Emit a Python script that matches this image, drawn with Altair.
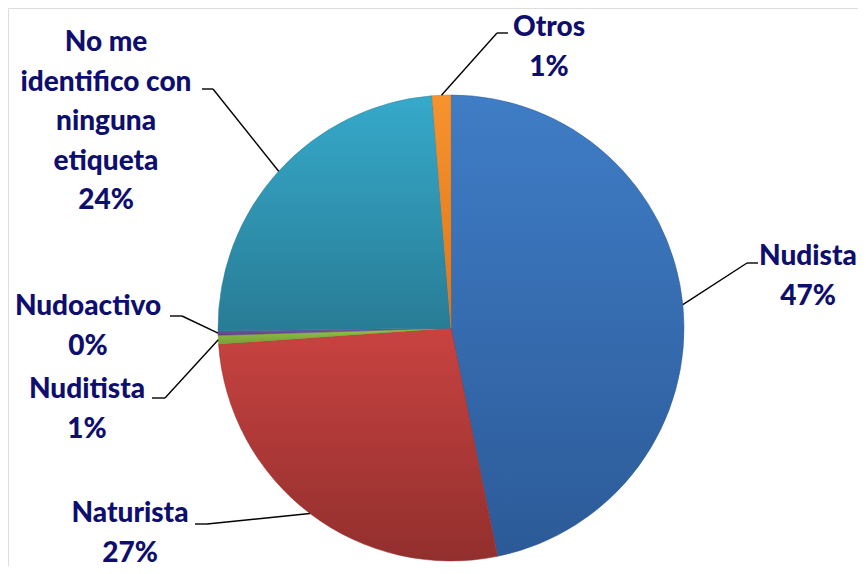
import altair as alt
import pandas as pd

# ---- data ----
categories = ["Nudista", "Naturista", "Nuditista", "Nudoactivo",
              "No me identifico con ninguna etiqueta", "Otros"]
label_text = ["Nudista", "Naturista", "Nuditista", "Nudoactivo",
              "No me\nidentifico con\nninguna\netiqueta", "Otros"]
values = [46.8, 27.1, 0.6, 0.3, 23.9, 1.3]

# ---- layout / style (plot-pixel coordinates) ----
W, H = 850, 558
CX, CY, R = 443, 320, 233
label_x = [800, 122, 79, 80, 98, 541]
label_y = [257, 514, 390, 307, 43, 28]
elbow_x = [739, 199, 157, 174, 205, 489]
elbow_y = [255, 516, 390, 308, 81, 25]
end_x = [750, 187, 144, 162, 194, 500]
end_y = [255, 516, 390, 308, 81, 25]
grad_top = ["#3F7DC6", "#C84341", "#95C24A", "#7A5CA6", "#36A9CA", "#F7932F"]
grad_bot = ["#2C5A98", "#922F2D", "#76A036", "#5A4484", "#287C95", "#DD7718"]
TEXT_COLOR = "#0E0E6E"

df = pd.DataFrame({
    "category": categories,
    "label": label_text,
    "value": values,
    "order": list(range(len(categories))),
    "lx": label_x, "ly": label_y,
    "ex": elbow_x, "ey": elbow_y,
    "hx": end_x, "hy": end_y,
})

base = (
    alt.Chart(df)
    .transform_window(cum="sum(value)", sort=[alt.SortField("order")], frame=[None, 0])
    .transform_joinaggregate(total="sum(value)")
    .transform_calculate(
        f0="(datum.cum - datum.value) / datum.total",
        f1="datum.cum / datum.total",
        mid="(datum.cum - datum.value / 2) / datum.total * 2 * PI",
        pct="format(datum.value / datum.total, '.0%')",
    )
    .transform_calculate(
        ax=f"{CX} + {R} * sin(datum.mid)",
        ay=f"{CY} - {R} * cos(datum.mid)",
        txt="datum.label + '\\n' + datum.pct",
    )
)

theta_scale = alt.Scale(domain=[0, 1], range=[0, 6.283185307179586])
xs = alt.Scale(domain=[0, W], range=[0, W], nice=False, zero=False)
ys = alt.Scale(domain=[0, H], range=[0, H], nice=False, zero=False)

layers = []
for i in range(len(categories)):
    grad = {
        "gradient": "linear", "x1": 0, "x2": 0, "y1": 0, "y2": 1,
        "stops": [{"offset": 0, "color": grad_top[i]},
                  {"offset": 1, "color": grad_bot[i]}],
    }
    layers.append(
        base.transform_filter(f"datum.order == {i}")
        .mark_arc(color=grad, radius=R, x=CX, y=CY, stroke=grad_bot[i], strokeWidth=0.5)
        .encode(theta=alt.Theta("f0:Q", scale=theta_scale), theta2="f1:Q")
    )

seg1 = base.mark_rule(color="black", strokeWidth=1.4).encode(
    x=alt.X("ax:Q", scale=xs, axis=None),
    y=alt.Y("ay:Q", scale=ys, axis=None),
    x2="ex:Q", y2="ey:Q",
)
seg2 = base.mark_rule(color="black", strokeWidth=1.4).encode(
    x=alt.X("ex:Q", scale=xs, axis=None),
    y=alt.Y("ey:Q", scale=ys, axis=None),
    x2="hx:Q", y2="hy:Q",
)
labels = base.mark_text(
    align="center", baseline="alphabetic", lineBreak="\n", lineHeight=39.5,
    font="Lato", fontWeight=900, fontSize=28, color=TEXT_COLOR,
).encode(
    x=alt.X("lx:Q", scale=xs, axis=None),
    y=alt.Y("ly:Q", scale=ys, axis=None),
    text="txt:N",
)

chart = (
    alt.layer(*layers, seg1, seg2, labels)
    .properties(width=W, height=H, padding=0, autosize="none")
    .configure_view(strokeWidth=0, stroke="transparent")
    .configure(background="white")
)

chart.save("out.html", embed_options={"renderer": "svg", "actions": False})
